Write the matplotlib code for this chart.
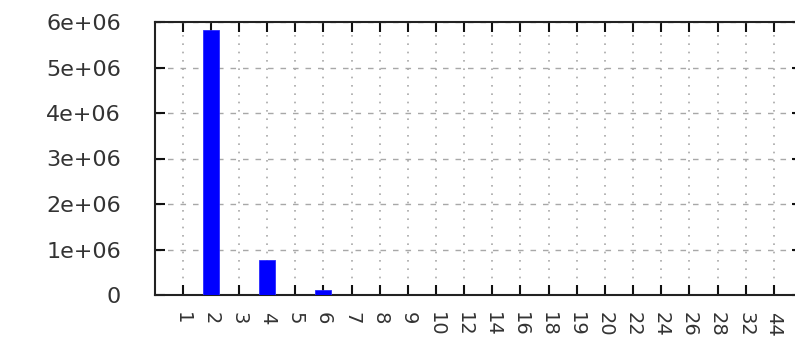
import matplotlib
matplotlib.use('Agg')
from matplotlib import pyplot as plt
import numpy as np

# categories along x and the count for each
labels = ['1', '2', '3', '4', '5', '6', '7', '8', '9', '10', '12', '14',
          '16', '18', '19', '20', '22', '24', '26', '28', '32', '44']
counts = [0, 5820000, 0, 770000, 0, 110000, 0, 0, 0, 0, 0, 0,
          0, 0, 0, 0, 0, 0, 0, 0, 0, 0]
yticks = [0, 1e6, 2e6, 3e6, 4e6, 5e6, 6e6]
ytick_labels = ['0', '1e+06', '2e+06', '3e+06', '4e+06', '5e+06', '6e+06']

fig = plt.figure(figsize=(7.95, 3.46), dpi=100)
# right border sits just past the edge of the picture, as in the original
ax = fig.add_axes([154.5 / 795, 51 / 346, (802 - 154.5) / 795, (295 - 22) / 346])

x = np.arange(1, len(labels) + 1)
ax.bar(x, counts, width=0.57, color='#0000ff', edgecolor='#2a2aff',
       linewidth=0.6, zorder=3)

ax.set_xlim(0, len(labels) + 1)
ax.set_ylim(0, 6e6)
ax.set_xticks(x)
ax.set_xticklabels(labels, rotation=-90, fontsize=14, color='#333333',
                   ha='center', va='top')
ax.set_yticks(yticks)
ax.set_yticklabels(ytick_labels, fontsize=16, color='#333333')

# gnuplot look: inward ticks on all sides, dotted / dashed grid
ax.tick_params(axis='both', direction='in', length=7.5, width=1.5,
               color='#111111', top=True, right=True)
ax.tick_params(axis='x', pad=12)
ax.tick_params(axis='y', pad=24)
ax.xaxis.grid(True, linestyle=(0, (1, 4)), color='#a8a8a8', linewidth=1.2, zorder=0)
ax.yaxis.grid(True, linestyle=(0, (4, 5)), color='#a8a8a8', linewidth=1.0, zorder=0)
ax.set_axisbelow(True)
for s in ax.spines.values():
    s.set_linewidth(1.5)
    s.set_color('#222222')

fig.savefig('out.png', dpi=100)
